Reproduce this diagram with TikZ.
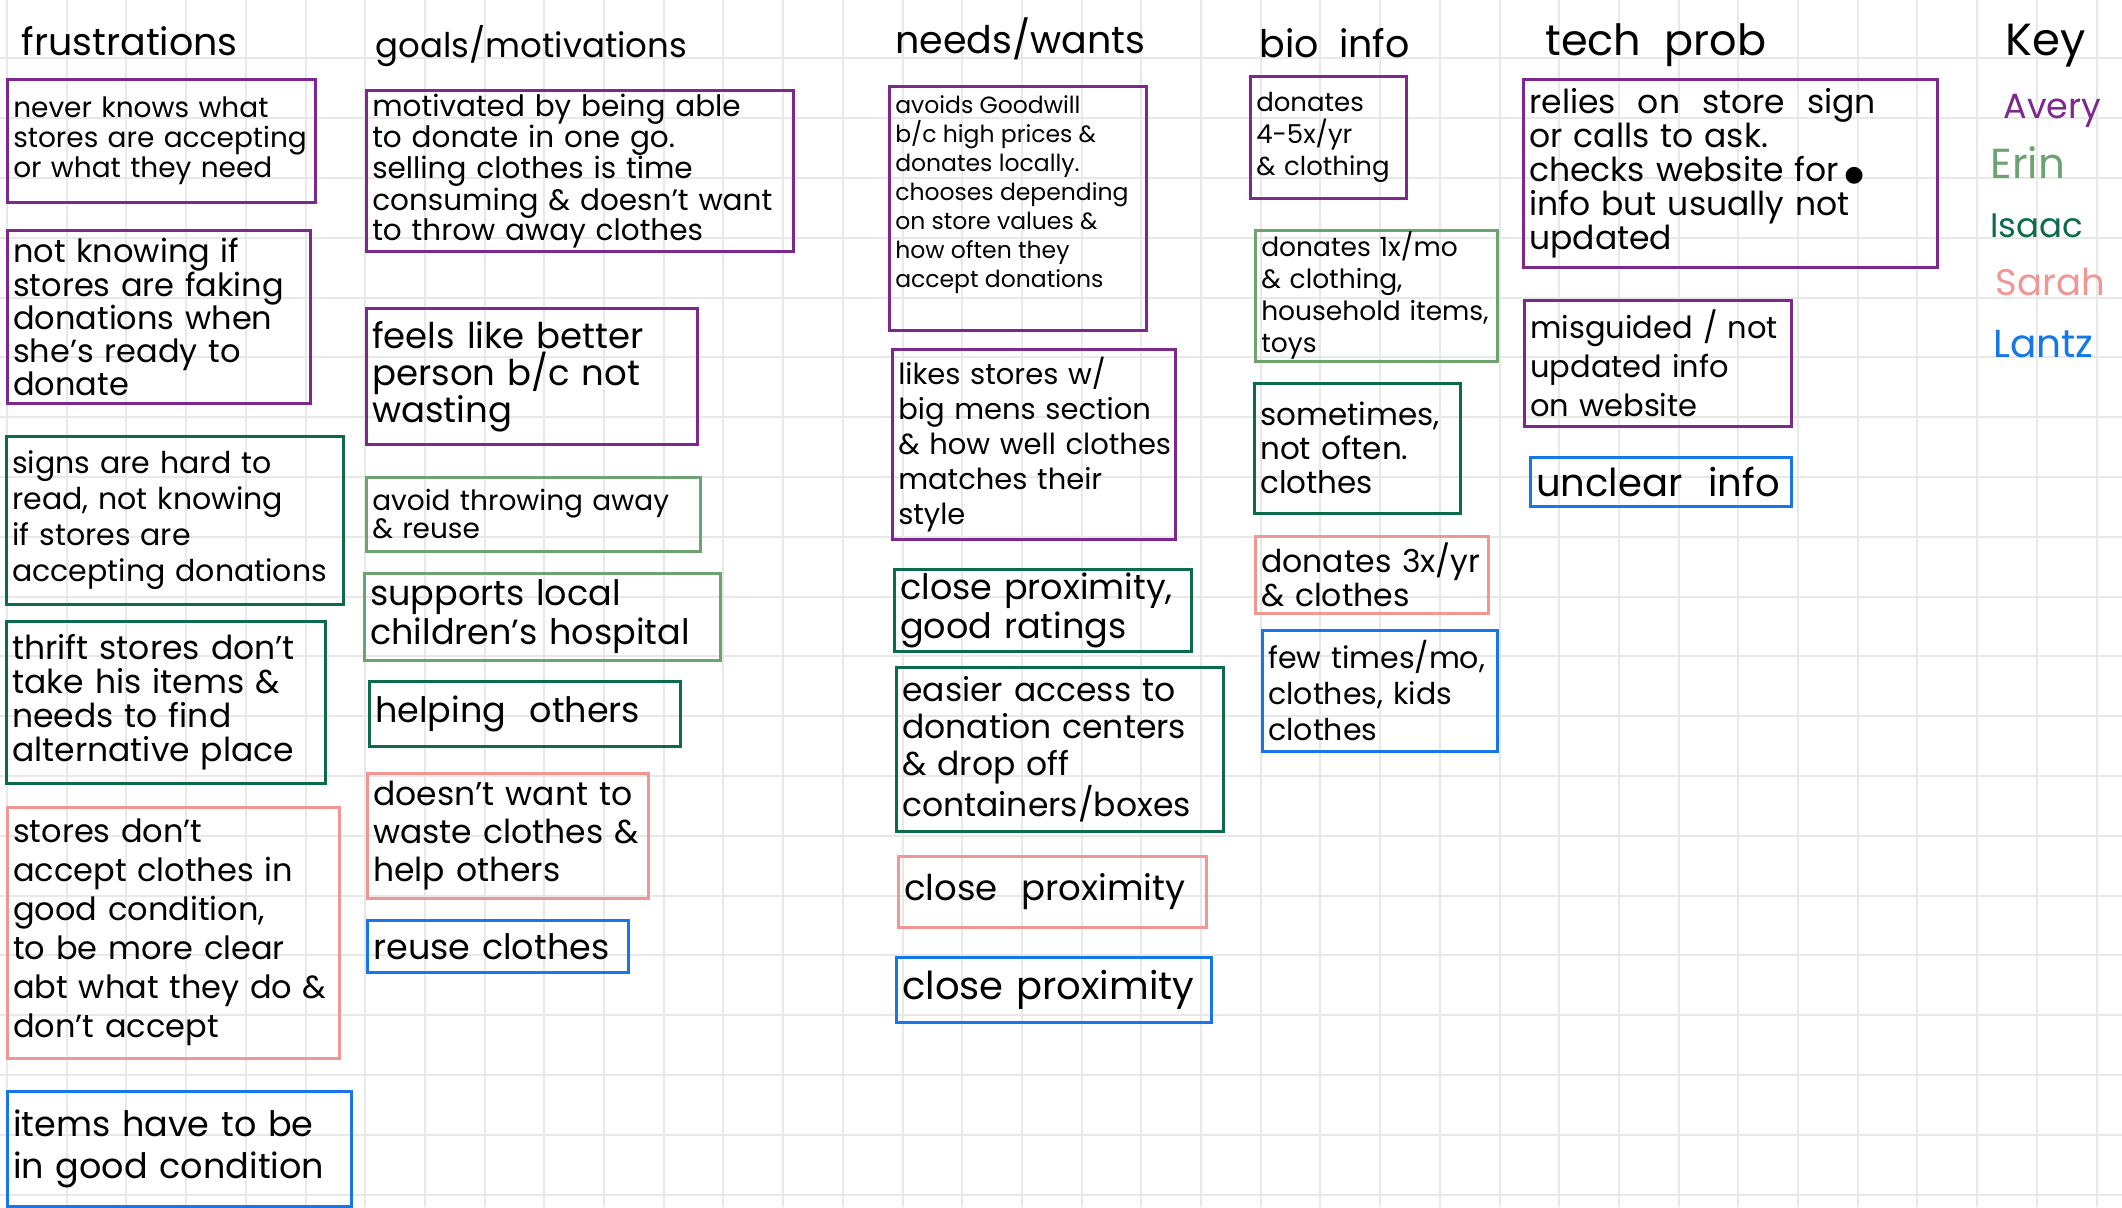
\documentclass[tikz,border=0pt]{standalone}
\usepackage{fontspec}
\setmainfont{Poppins}
\newfontfamily\symfont{DejaVu Sans}
\definecolor{avery}{RGB}{125,40,140}
\definecolor{erin}{RGB}{108,163,112}
\definecolor{isaac}{RGB}{12,108,74}
\definecolor{sarah}{RGB}{240,150,148}
\definecolor{lantz}{RGB}{22,120,232}
\definecolor{gridc}{RGB}{232,232,232}
\hyphenpenalty=10000
\exhyphenpenalty=10000
\hbadness=10000
\hfuzz=50pt
\newlength\nbw
% name, colour, x, y, width, height, font size, baselineskip, text  (text centred vertically)
\newcommand\notebox[9]{%
  \setlength\nbw{\dimexpr #5pt-12pt\relax}%
  \node[note, align=left, draw=#2, minimum width=#5pt, minimum height=#6pt, text width=\nbw,
        font=\fontsize{#7}{#8}\selectfont] (#1) at (#3,#4) {#9};}
% same, text set from the top of the box
\newcommand\noteboxtop[9]{%
  \setlength\nbw{\dimexpr #5pt-12pt\relax}%
  \node[note, draw=#2, minimum width=#5pt, minimum height=#6pt,
        font=\fontsize{#7}{#8}\selectfont] (#1) at (#3,#4)
        {\parbox[c][\dimexpr #6pt-4pt\relax][t]{\nbw}{\raggedright\vspace{7pt}#9}};}
\begin{document}
\begin{tikzpicture}[x=1pt,y=-1pt,
  note/.style={line width=2.5pt, anchor=north west, inner xsep=6pt, inner ysep=0pt, text=black},
  head/.style={anchor=base west, font=\fontsize{38}{40}\selectfont},
  keyname/.style={anchor=base west},
  gridline/.style={gridc, line width=2pt}]
\useasboundingbox (0,0) rectangle (2122,1207);
\fill[white] (0,0) rectangle (2122,1207);
\foreach \i in {0,...,35} \draw[gridline] ({7+59.7*\i},0) -- ({7+59.7*\i},1207);
\foreach \j in {1,...,20} \draw[gridline] (0,{-1.5+59.8*\j}) -- (2122,{-1.5+59.8*\j});

% headers
\node[head] (h1) at (18,56) {frustrations};
\node[head, font=\fontsize{34}{36}\selectfont] (h2) at (372,57) {goals/motivations};
\node[head] (h3) at (892,54) {needs/wants};
\node[head] (h4) at (1256,58) {bio\ \ info};
\node[head, font=\fontsize{43}{45}\selectfont] (h5) at (1542,56) {tech\ \ prob};
\node[head, font=\fontsize{45}{47}\selectfont] (h6) at (2002,56) {Key};

% key
\node[keyname, text=avery, font=\fontsize{35}{37}\selectfont] (k1) at (2000,118) {Avery};
\node[keyname, text=erin,  font=\fontsize{42}{44}\selectfont] (k2) at (1987,178) {Erin};
\node[keyname, text=isaac, font=\fontsize{34}{36}\selectfont] (k3) at (1987,237) {Isaac};
\node[keyname, text=sarah, font=\fontsize{37}{39}\selectfont] (k4) at (1992,295) {Sarah};
\node[keyname, text=lantz, font=\fontsize{39}{41}\selectfont] (k5) at (1990,357) {Lantz};

% frustrations
\notebox{f1}{avery}{6}{78}{308}{123}{28}{30}{never knows what\\stores are accepting\\or what they need}
\notebox{f2}{avery}{6}{229}{303}{173}{32}{33}{not knowing if\\stores are faking\\donations when\\she's ready to\\donate}
\notebox{f3}{isaac}{5}{435}{337}{168}{30}{36}{signs are hard to\\read, not knowing\\if stores are\\accepting~donations}
\notebox{f4}{isaac}{5}{620}{319}{162}{33}{34}{thrift stores don't\\take his items \&\\needs to find\\alternative place}
\notebox{f5}{sarah}{6}{806}{332}{251}{32}{39}{stores don't\\accept clothes in\\good condition,\\to be more clear\\abt what they do \&\\don't accept}
\notebox{f6}{lantz}{6}{1090}{344}{115}{35}{42}{items have to be\\in good condition}

% goals / motivations
\notebox{g1}{avery}{365}{89}{427}{161}{29.5}{30}{motivated by being able\\to donate in one go.\\selling clothes is time\\consuming \& doesn't want\\to throw away clothes}
\notebox{g2}{avery}{365}{307}{331}{136}{35.5}{37}{feels like better\\person b/c not\\wasting}
\notebox{g3}{erin}{365}{476}{334}{74}{28}{27}{avoid throwing away\\\& reuse}
\notebox{g4}{erin}{363}{572}{356}{87}{35}{39}{supports local\\children's hospital}
\notebox{g5}{isaac}{368}{680}{311}{65}{35}{40}{helping\ \ others}
\notebox{g6}{sarah}{366}{772}{281}{125}{33}{38}{doesn't want to\\waste clothes \&\\help others}
\notebox{g7}{lantz}{366}{919}{261}{52}{35}{38}{reuse clothes}

% needs / wants
\noteboxtop{n1}{avery}{888}{85}{257}{244}{23.5}{29}{avoids Goodwill\\b/c high prices \&\\donates locally.\\chooses depending\\on store values \&\\how often they\\accept donations}
\notebox{n2}{avery}{891}{348}{283}{190}{29}{35}{likes stores w/\\big mens section\\\&~how~well~clothes\\matches their\\style}
\notebox{n3}{isaac}{893}{568}{297}{82}{35}{39}{close proximity,\\good ratings}
\notebox{n4}{isaac}{895}{666}{327}{164}{33}{37}{easier access to\\donation centers\\\& drop off\\containers/boxes}
\notebox{n5}{sarah}{897}{855}{308}{71}{35.5}{40}{close\ \ proximity}
\notebox{n6}{lantz}{895}{956}{315}{65}{38.5}{40}{close proximity}

% bio info
\notebox{b1}{avery}{1249}{75}{156}{122}{26}{32}{donates\\4-5x/yr\\\& clothing}
\notebox{b2}{erin}{1254}{229}{242}{131}{26.5}{32}{donates 1x/mo\\\& clothing,\\household items,\\toys}
\notebox{b3}{isaac}{1253}{382}{206}{130}{31}{34}{sometimes,\\not often.\\clothes}
\notebox{b4}{sarah}{1254}{535}{233}{77}{31.5}{34}{donates 3x/yr\\\& clothes}
\notebox{b5}{lantz}{1261}{629}{235}{121}{30}{36}{few~times/mo,\\clothes, kids\\clothes}

% tech prob
\notebox{t1}{avery}{1522}{78}{414}{188}{33}{34}{relies\ \ on\ \ store\ \ sign\\or calls to ask.\\checks website for\,{\symfont\fontsize{22}{22}\selectfont ●}\\info but usually not\\updated}
\notebox{t2}{avery}{1523}{299}{267}{126}{30.5}{39}{misguided~/~not\\updated info\\on website}
\notebox{t3}{lantz}{1529}{456}{261}{49}{38.5}{40}{unclear\ \ info}
\end{tikzpicture}
\end{document}
